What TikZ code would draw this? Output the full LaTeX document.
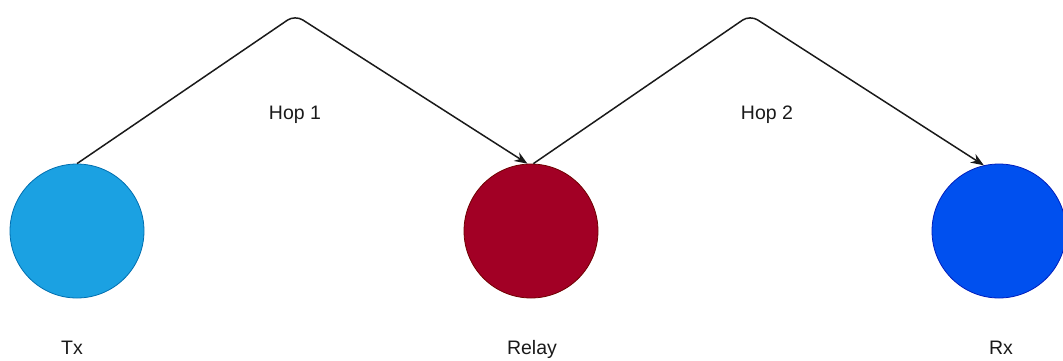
\documentclass[tikz,border=0pt]{standalone}
\usepackage{fontspec}
\setmainfont{Liberation Sans}
\usetikzlibrary{arrows.meta}
\definecolor{txfill}{HTML}{1BA1E2}
\definecolor{txline}{HTML}{006EAF}
\definecolor{relayfill}{HTML}{A20025}
\definecolor{relayline}{HTML}{6F0000}
\definecolor{rxfill}{HTML}{0050EF}
\definecolor{rxline}{HTML}{001DBC}
\definecolor{ink}{HTML}{1A1A1A}
\tikzset{
  station/.style={circle, minimum size=134pt, inner sep=0pt, line width=0.8pt},
  lbl/.style={font=\fontsize{19.5}{23}\selectfont, text=ink, inner sep=0pt},
  hop/.style={draw=ink, line width=1.5pt, rounded corners=9pt, -{Stealth[length=13pt,width=10pt]}}
}
\begin{document}
\begin{tikzpicture}[x=1pt,y=-1pt]
\useasboundingbox (0,0) rectangle (1063,360);
\node[station, fill=txfill, draw=txline] (tx) at (77,231) {};
\node[station, fill=relayfill, draw=relayline] (relay) at (531,231) {};
\node[station, fill=rxfill, draw=rxline] (rx) at (999,231) {};
\coordinate (p1) at (295,15);
\coordinate (p2) at (750,15);
\draw[hop] (tx.north) -- (p1) -- (relay.93);
\draw[hop] (relay.88) -- (p2) -- (rx.103);
\node[lbl] (h1) at (295,115) {Hop 1};
\node[lbl] (h2) at (767,115) {Hop 2};
\node[lbl] (ltx) at (72,348) {Tx};
\node[lbl] (lrelay) at (532,349) {Relay};
\node[lbl] (lrx) at (1001,348) {Rx};
\end{tikzpicture}
\end{document}
